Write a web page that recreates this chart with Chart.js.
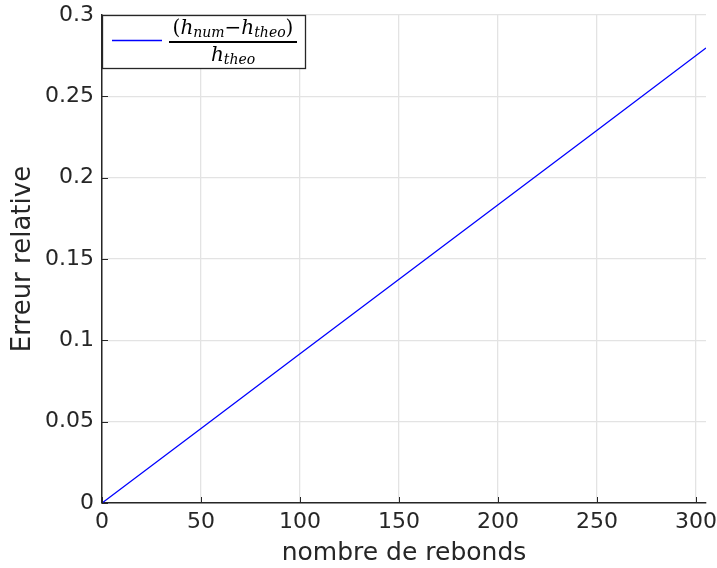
<!DOCTYPE html>
<html>
<head>
<meta charset="utf-8">
<script src="https://cdn.jsdelivr.net/npm/chart.js@4/dist/chart.umd.min.js"></script>
<style>
  html, body { margin: 0; padding: 0; background: #fff; }
  #wrap { width: 717px; height: 568px; }
</style>
</head>
<body>
<div id="wrap"><canvas id="grafico" width="717" height="568"></canvas></div>
<script>
// valeurs
const rebonds = [0, 50, 100, 150, 200, 250, 305];
const erreur = [0, 0.0458, 0.0917, 0.1375, 0.1834, 0.2292, 0.2797];
const ticksX = [0, 50, 100, 150, 200, 250, 300];
const ticksY = [0, 0.05, 0.1, 0.15, 0.2, 0.25, 0.3];

const axeCouleur = "#262626";
const grilleCouleur = "#e3e3e3";
const police = "'DejaVu Sans'";

// petits traits de graduation vers l'intérieur (style matlab)
const graduations = {
    id: "graduations",
    afterDatasetsDraw(chart) {
        const { ctx, chartArea, scales } = chart;
        ctx.save();
        ctx.strokeStyle = axeCouleur;
        ctx.lineWidth = 1;
        ticksX.forEach(v => {
            const x = Math.round(scales.x.getPixelForValue(v)) + 0.5;
            ctx.beginPath();
            ctx.moveTo(x, chartArea.bottom);
            ctx.lineTo(x, chartArea.bottom - 6);
            ctx.stroke();
        });
        ticksY.forEach(v => {
            const y = Math.round(scales.y.getPixelForValue(v)) + 0.5;
            ctx.beginPath();
            ctx.moveTo(chartArea.left, y);
            ctx.lineTo(chartArea.left + 6, y);
            ctx.stroke();
        });
        ctx.restore();
    }
};

// légende avec la fraction (h_num - h_theo) / h_theo
function morceaux(ctx, parts) {
    let w = 0;
    parts.forEach(p => {
        ctx.font = p.f;
        p.w = ctx.measureText(p.t).width;
        w += p.w;
    });
    return w;
}

function ecrire(ctx, parts, cx, y) {
    const total = morceaux(ctx, parts);
    let x = cx - total / 2;
    parts.forEach(p => {
        ctx.font = p.f;
        ctx.fillText(p.t, x, y + (p.dy || 0));
        x += p.w;
    });
}

const legende = {
    id: "legende",
    afterDraw(chart) {
        const ctx = chart.ctx;
        const a = chart.chartArea;
        const x0 = a.left, y0 = a.top, w = 203, h = 53;
        ctx.save();
        ctx.fillStyle = "#fff";
        ctx.fillRect(x0, y0, w, h);
        ctx.strokeStyle = axeCouleur;
        ctx.lineWidth = 1.3;
        ctx.strokeRect(x0 + 0.5, y0 + 0.5, w, h);

        ctx.strokeStyle = "#0000ff";
        ctx.lineWidth = 1.3;
        ctx.beginPath();
        ctx.moveTo(x0 + 10, y0 + 25.5);
        ctx.lineTo(x0 + 60, y0 + 25.5);
        ctx.stroke();

        const n = "20px 'DejaVu Serif'";
        const it = "italic 20px 'DejaVu Serif'";
        const sub = "italic 14px 'DejaVu Serif'";
        ctx.fillStyle = "#000";
        ctx.textBaseline = "alphabetic";
        const cx = x0 + 131;
        ecrire(ctx, [
            { t: "(", f: n },
            { t: "h", f: it },
            { t: "num", f: sub, dy: 3 },
            { t: "\u2212", f: n },
            { t: "h", f: it },
            { t: "theo", f: sub, dy: 3 },
            { t: ")", f: n }
        ], cx, y0 + 19);
        ctx.fillRect(x0 + 67, y0 + 26, 128, 2);
        ecrire(ctx, [
            { t: "h", f: it },
            { t: "theo", f: sub, dy: 3 }
        ], cx, y0 + 46);
        ctx.restore();
    }
};

const ctx = document.getElementById("grafico").getContext("2d");

new Chart(ctx, {
    type: "line",
    data: {
        datasets: [{
            label: "(h_num - h_theo) / h_theo",
            data: rebonds.map((r, i) => ({ x: r, y: erreur[i] })),
            borderColor: "#0000ff",
            borderWidth: 1.3,
            pointRadius: 0,
            fill: false,
            tension: 0
        }]
    },
    options: {
        responsive: false,
        animation: false,
        layout: { padding: { top: 15, right: 11, left: 0, bottom: 0 } },
        plugins: {
            legend: { display: false },
            tooltip: { enabled: false }
        },
        scales: {
            x: {
                type: "linear",
                min: 0,
                max: 305,
                afterBuildTicks: s => { s.ticks = ticksX.map(v => ({ value: v })); },
                afterFit: s => {
                    s.height = 65;
                    s.paddingLeft = 0;
                    s.paddingRight = 0;
                },
                grid: { color: grilleCouleur, drawTicks: false, lineWidth: 1.3 },
                border: { color: axeCouleur, width: 1.5 },
                ticks: {
                    color: "#262626",
                    padding: 6,
                    maxRotation: 0,
                    font: { family: police, size: 22 }
                },
                title: {
                    display: true,
                    text: "nombre de rebonds",
                    color: "#262626",
                    padding: { top: -4, bottom: 0 },
                    font: { family: police, size: 25 }
                }
            },
            y: {
                min: 0,
                max: 0.3,
                afterBuildTicks: s => { s.ticks = ticksY.map(v => ({ value: v })); },
                afterFit: s => {
                    s.width = 102;
                    s.paddingTop = 0;
                    s.paddingBottom = 0;
                },
                grid: { color: grilleCouleur, drawTicks: false, lineWidth: 1.3 },
                border: { color: axeCouleur, width: 1.5 },
                ticks: {
                    color: "#262626",
                    padding: 8,
                    callback: v => String(+v.toFixed(2)),
                    font: { family: police, size: 22 }
                },
                title: {
                    display: true,
                    text: "Erreur relative",
                    color: "#262626",
                    padding: { top: 8, bottom: 0 },
                    font: { family: police, size: 26 }
                }
            }
        }
    },
    plugins: [graduations, legende]
});
</script>
</body>
</html>
